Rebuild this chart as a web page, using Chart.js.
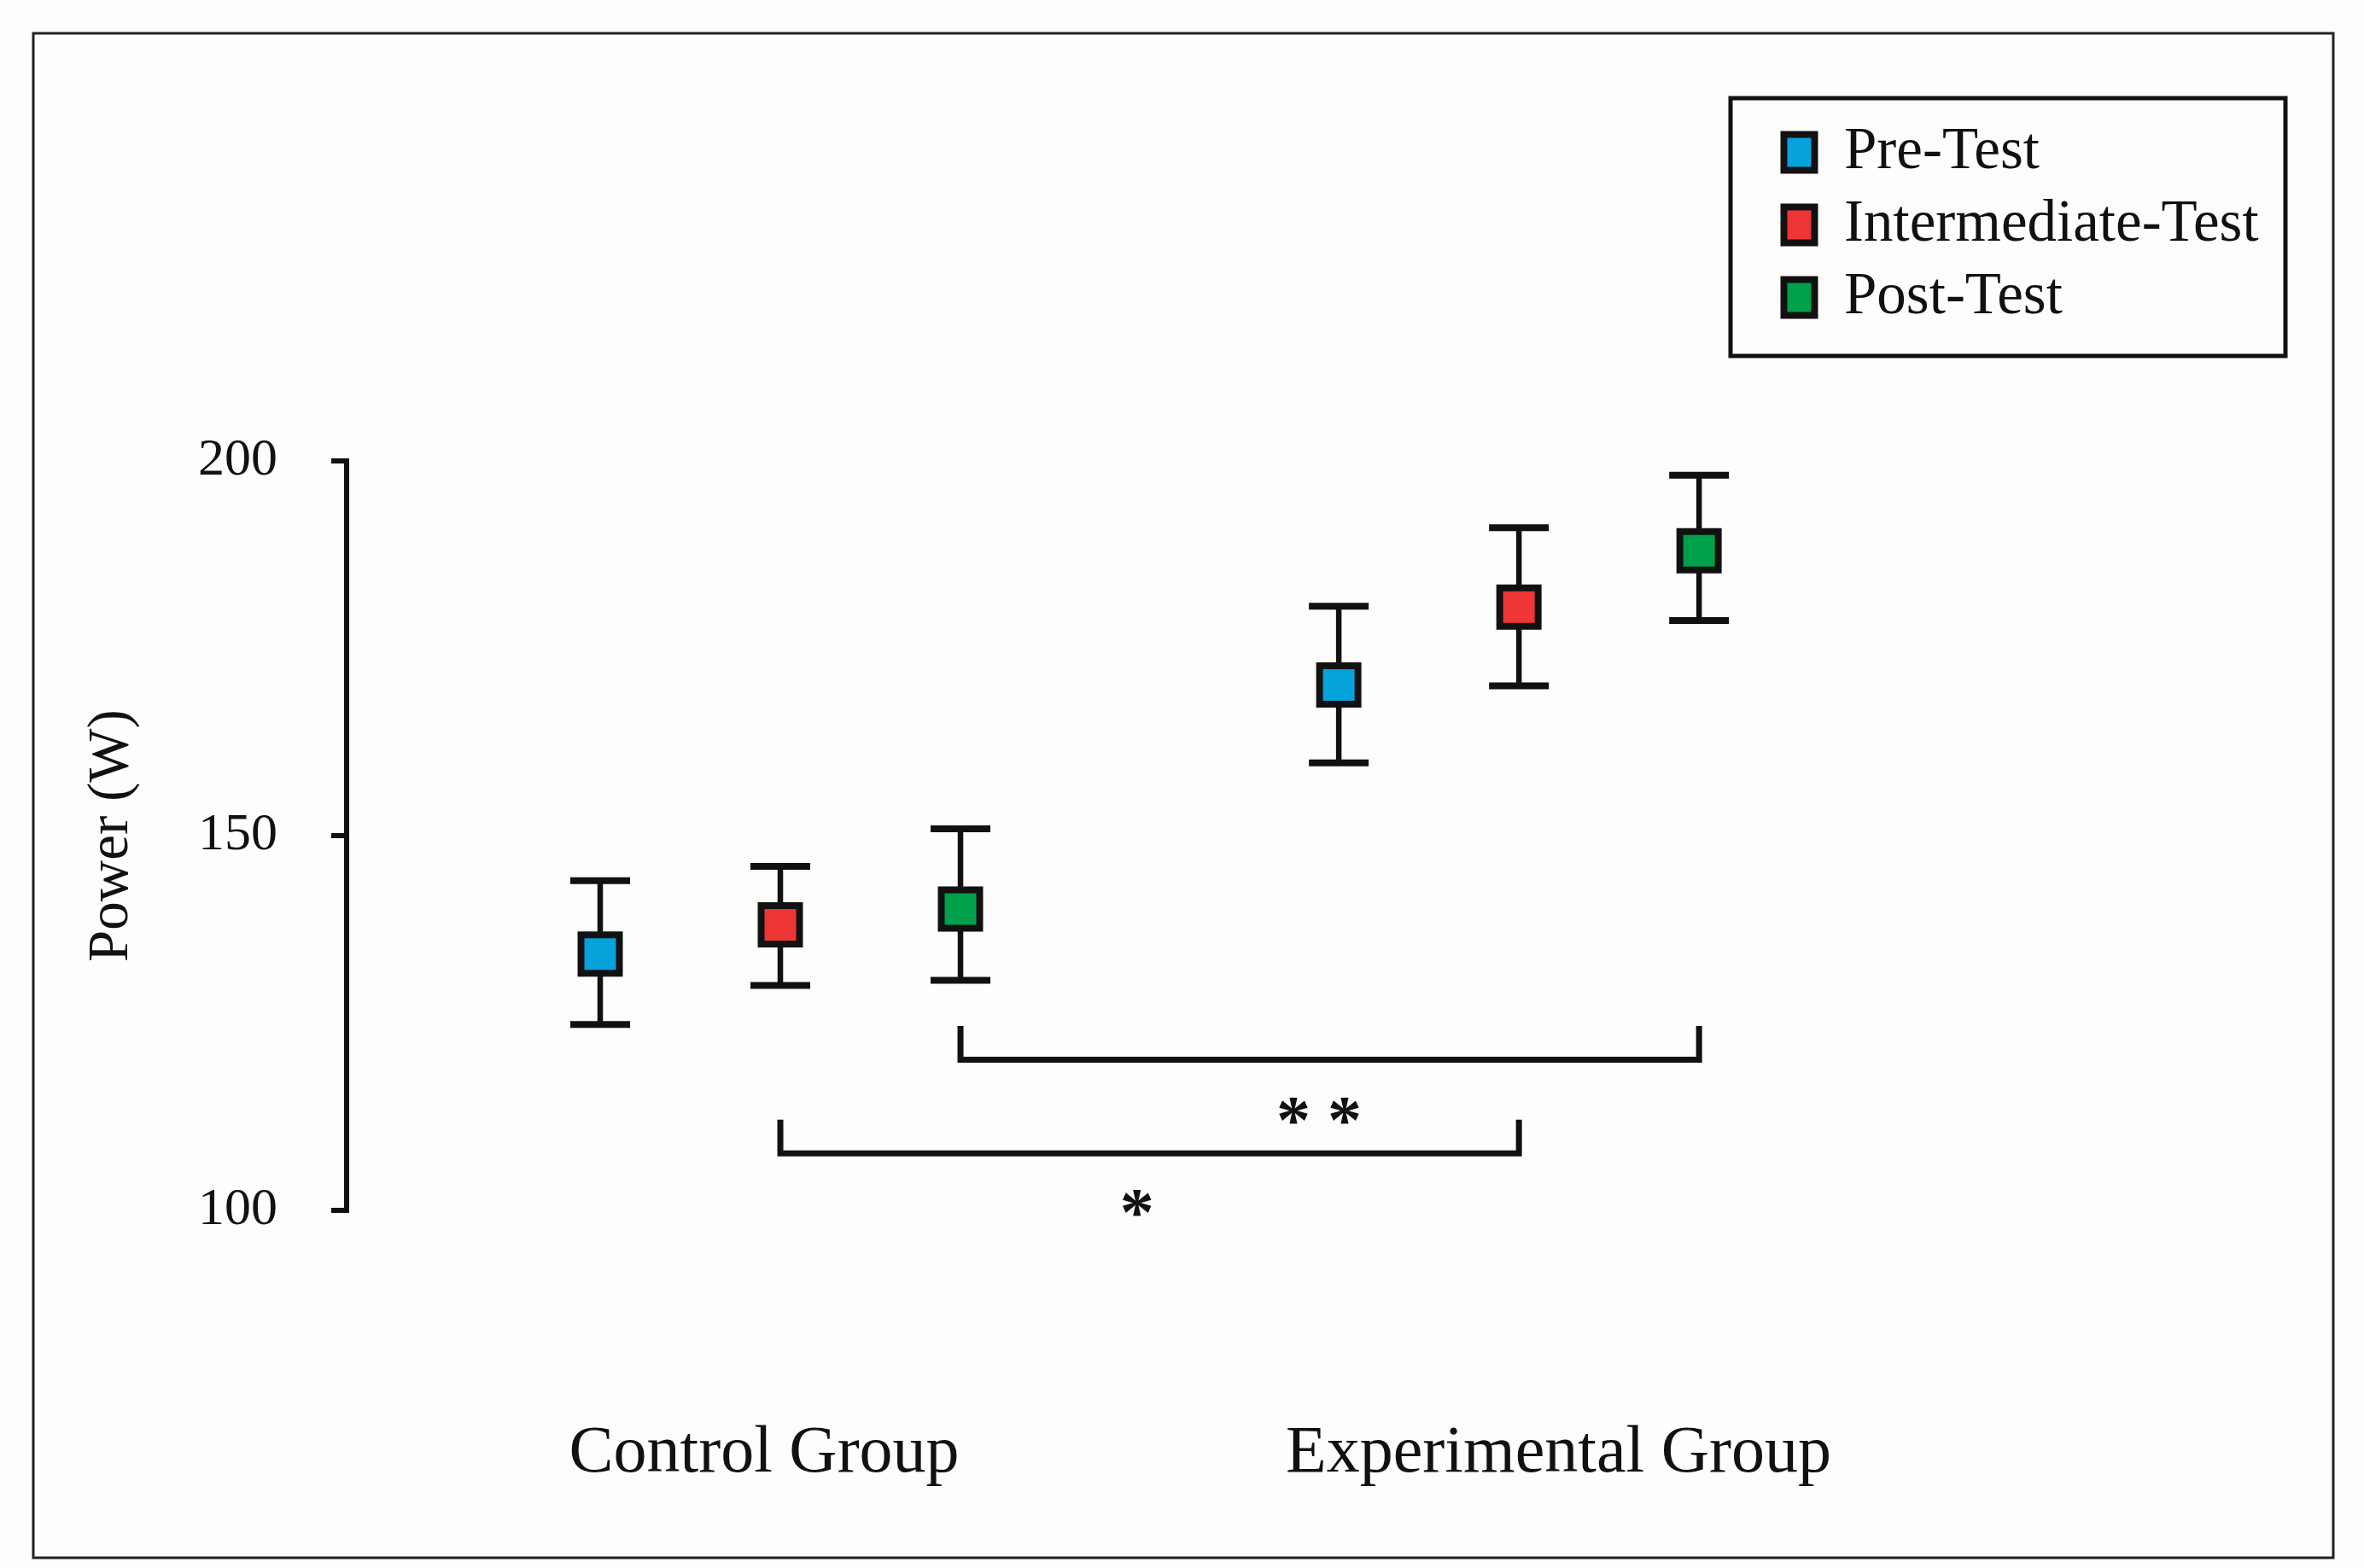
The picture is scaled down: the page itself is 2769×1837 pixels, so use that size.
<!DOCTYPE html>
<html>
<head>
<meta charset="utf-8">
<script src="https://cdn.jsdelivr.net/npm/chart.js@4.4.0/dist/chart.umd.min.js"></script>
<style>
  html, body { margin: 0; padding: 0; background: #fdfdfb; }
  #wrap { width: 2769px; height: 1837px; position: relative; }
</style>
</head>
<body>
<div id="wrap"><canvas id="myChart"></canvas></div>
<script>
/* Datos */
const grupos = ["Control Group", "Experimental Group"];
const tests = ["Pre-Test", "Intermediate-Test", "Post-Test"];
const preMean = [134.2, 170.1];
const preLow = [124.8, 159.7];
const preHigh = [144.0, 180.6];
const intMean = [138.1, 180.5];
const intLow = [130.0, 170.0];
const intHigh = [145.9, 191.1];
const postMean = [140.2, 188.0];
const postLow = [130.7, 178.7];
const postHigh = [150.9, 198.1];
const yTicks = [100, 150, 200];

/* Llaves de significancia: test comparado, altura de la linea y de las puntas */
const sigTest = [2, 1];
const sigLine = [120.1, 107.6];
const sigTip = [124.6, 112.1];
const sigText = ["* *", "*"];
const sigTextX = [4.99, 3.98];
const sigTextY = [113.3, 101.0];

/* Layout */
const slotX = [[1, 2, 3], [5.1, 6.1, 7.1]];
const groupLabelX = [1.91, 6.32];
const colores = ["#06a2dc", "#ee3535", "#00a04b"];
const fuente = "'Liberation Serif', serif";
const tinta = "#111";
const fuenteLeyenda = 69;

const means = [preMean, intMean, postMean];
const lows = [preLow, intLow, postLow];
const highs = [preHigh, intHigh, postHigh];

/* Ancho de la leyenda para dejar el area del grafico fija */
const medida = document.createElement("canvas").getContext("2d");
medida.font = fuenteLeyenda + "px " + fuente;
const textoMax = Math.max(...tests.map((t) => medida.measureText(t).width));
const anchoLeyenda = 16 + 36 + fuenteLeyenda / 2 + textoMax + 10;
const padDerecha = 2769 - 2073.5 - anchoLeyenda;

/* Fondo y marco */
const marco = {
  id: "marco",
  beforeDraw(chart) {
    const ctx = chart.ctx;
    ctx.save();
    ctx.fillStyle = "#fdfdfb";
    ctx.fillRect(0, 0, chart.width, chart.height);
    ctx.strokeStyle = "#222";
    ctx.lineWidth = 3;
    ctx.strokeRect(39, 39, 2694, 1786);
    ctx.restore();
  },
  afterDraw(chart) {
    const ctx = chart.ctx;
    const hb = chart.legend.legendHitBoxes;
    if (!hb || !hb.length) return;
    const l = hb[0].left - 62.5;
    const t = hb[0].top - 29;
    ctx.save();
    ctx.strokeStyle = tinta;
    ctx.lineWidth = 5;
    ctx.strokeRect(l, t, 650, 302);
    ctx.restore();
  },
};

/* Barras de error y llaves */
const barrasError = {
  id: "barrasError",
  beforeDatasetsDraw(chart) {
    const { ctx, scales: { x, y } } = chart;
    ctx.save();
    ctx.strokeStyle = tinta;
    tests.forEach((t, i) => {
      grupos.forEach((g, j) => {
        const px = x.getPixelForValue(slotX[j][i]);
        const top = y.getPixelForValue(highs[i][j]);
        const bot = y.getPixelForValue(lows[i][j]);
        ctx.lineWidth = 6.5;
        ctx.beginPath();
        ctx.moveTo(px, top);
        ctx.lineTo(px, bot);
        ctx.stroke();
        ctx.lineWidth = 8;
        ctx.beginPath();
        ctx.moveTo(px - 35, top);
        ctx.lineTo(px + 35, top);
        ctx.moveTo(px - 35, bot);
        ctx.lineTo(px + 35, bot);
        ctx.stroke();
      });
    });
    ctx.restore();
  },
  afterDatasetsDraw(chart) {
    const { ctx, scales: { x, y } } = chart;
    ctx.save();
    ctx.strokeStyle = tinta;
    ctx.fillStyle = tinta;
    ctx.lineWidth = 7;
    ctx.lineJoin = "miter";
    sigTest.forEach((ti, k) => {
      const x1 = x.getPixelForValue(slotX[0][ti]);
      const x2 = x.getPixelForValue(slotX[1][ti]);
      const yl = y.getPixelForValue(sigLine[k]);
      const yt = y.getPixelForValue(sigTip[k]);
      ctx.beginPath();
      ctx.moveTo(x1, yt);
      ctx.lineTo(x1, yl);
      ctx.lineTo(x2, yl);
      ctx.lineTo(x2, yt);
      ctx.stroke();
    });
    ctx.font = "bold 80px " + fuente;
    ctx.textAlign = "center";
    ctx.textBaseline = "alphabetic";
    sigText.forEach((txt, k) => {
      const m = ctx.measureText(txt);
      const cy = y.getPixelForValue(sigTextY[k]);
      const off = (m.actualBoundingBoxAscent - m.actualBoundingBoxDescent) / 2;
      ctx.fillText(txt, x.getPixelForValue(sigTextX[k]), cy + off);
    });
    ctx.restore();
  },
};

const ctx = document.getElementById("myChart").getContext("2d");
const myChart = new Chart(ctx, {
  type: "scatter",
  data: {
    datasets: tests.map((t, i) => ({
      label: t,
      data: grupos.map((g, j) => ({ x: slotX[j][i], y: means[i][j] })),
      backgroundColor: colores[i],
      borderColor: tinta,
      borderWidth: 7,
      pointStyle: "rect",
      pointRadius: 31.8,
      pointHoverRadius: 31.8,
      pointBorderWidth: 8,
      showLine: false,
    })),
  },
  options: {
    responsive: true,
    maintainAspectRatio: false,
    animation: false,
    layout: {
      padding: { top: 128, left: 91.6, right: padDerecha, bottom: 86.4 },
    },
    plugins: {
      tooltip: { enabled: false },
      title: {
        display: true,
        text: "",
        font: { size: 12 },
        padding: { top: 0, bottom: 397.6 },
      },
      legend: {
        position: "right",
        align: "start",
        labels: {
          boxWidth: 36,
          boxHeight: 42,
          padding: 16,
          color: tinta,
          font: { family: fuente, size: fuenteLeyenda },
        },
      },
    },
    scales: {
      x: {
        type: "linear",
        min: -0.4076,
        max: 7.495,
        grid: { display: false, drawTicks: false },
        border: { display: false },
        afterBuildTicks: (s) => {
          s.ticks = groupLabelX.map((v) => ({ value: v }));
        },
        afterFit: (s) => {
          s.height = 239 + 78 * 1.2;
        },
        ticks: {
          padding: 239,
          maxRotation: 0,
          autoSkip: false,
          color: tinta,
          font: { family: fuente, size: 78 },
          callback: (v, i) => grupos[i],
        },
      },
      y: {
        min: 100,
        max: 200,
        afterBuildTicks: (s) => {
          s.ticks = yTicks.map((v) => ({ value: v }));
        },
        afterFit: (s) => {
          s.width = 314.4;
        },
        border: { display: true, color: tinta, width: 6 },
        grid: {
          drawOnChartArea: false,
          drawTicks: true,
          tickLength: 18,
          color: tinta,
          lineWidth: 6,
        },
        ticks: {
          padding: 63,
          color: tinta,
          font: { family: fuente, size: 62 },
        },
        title: {
          display: true,
          text: "Power (W)",
          color: tinta,
          font: { family: fuente, size: 67 },
          padding: { top: 0, bottom: 0 },
        },
      },
    },
  },
  plugins: [marco, barrasError],
});
</script>
</body>
</html>
